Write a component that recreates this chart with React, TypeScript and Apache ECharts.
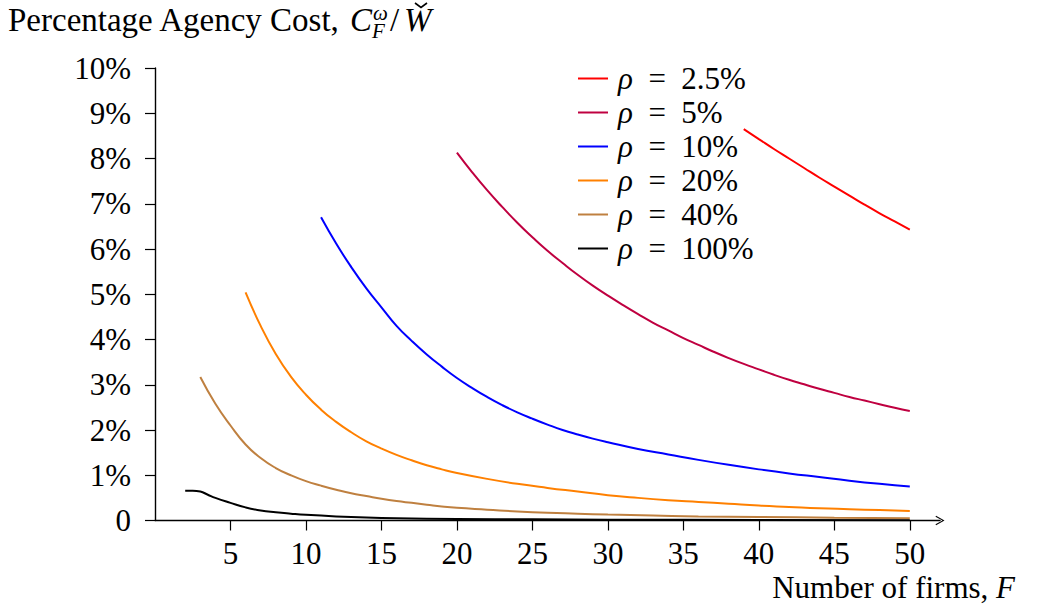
import React, { useEffect, useRef } from "react";
import * as echarts from "echarts";

const FONT = '"Liberation Serif", "Times New Roman", serif';

// x-axis tick values (number of firms) and y-axis ticks (percent)
const xTicks = [5, 10, 15, 20, 25, 30, 35, 40, 45, 50];
const yTicks = [0, 1, 2, 3, 4, 5, 6, 7, 8, 9, 10];

// [F, agency cost %]
const rho2_5: [number, number][] = [
  [39, 8.65], [40, 8.43], [41, 8.21], [42, 8.0], [43, 7.79], [44, 7.58],
  [45, 7.38], [46, 7.18], [47, 6.98], [48, 6.79], [49, 6.61], [50, 6.43],
];
const rho5: [number, number][] = [
  [20, 8.13], [21, 7.7], [22, 7.3], [23, 6.93], [24, 6.58], [25, 6.26],
  [26, 5.96], [27, 5.69], [28, 5.43], [29, 5.19], [30, 4.97], [31, 4.76],
  [32, 4.56], [33, 4.37], [34, 4.2], [35, 4.03], [36, 3.88], [37, 3.73],
  [38, 3.59], [39, 3.46], [40, 3.34], [41, 3.22], [42, 3.11], [43, 3.01],
  [44, 2.91], [45, 2.82], [46, 2.73], [47, 2.65], [48, 2.57], [49, 2.49],
  [50, 2.42],
];
const rho10: [number, number][] = [
  [11, 6.7], [12, 6.12], [13, 5.6], [14, 5.13], [15, 4.71], [16, 4.3],
  [17, 3.97], [18, 3.67], [19, 3.4], [20, 3.15], [21, 2.93], [22, 2.73],
  [23, 2.55], [24, 2.39], [25, 2.25], [26, 2.12], [27, 2.0], [28, 1.9],
  [29, 1.81], [30, 1.73], [32, 1.58], [34, 1.46], [36, 1.34], [38, 1.23],
  [40, 1.13], [42, 1.04], [44, 0.96], [46, 0.88], [48, 0.81], [50, 0.75],
];
const rho20: [number, number][] = [
  [6, 5.04], [7, 4.3], [8, 3.68], [9, 3.18], [10, 2.78], [11, 2.45],
  [12, 2.18], [13, 1.95], [14, 1.75], [15, 1.59], [16, 1.45], [17, 1.33],
  [18, 1.22], [19, 1.13], [20, 1.05], [22, 0.92], [24, 0.81], [26, 0.72],
  [28, 0.64], [30, 0.56], [32, 0.5], [34, 0.45], [36, 0.41], [38, 0.37],
  [40, 0.33], [42, 0.3], [44, 0.27], [46, 0.25], [48, 0.23], [50, 0.21],
];
const rho40: [number, number][] = [
  [3, 3.17], [4, 2.58], [5, 2.1], [6, 1.68], [7, 1.38], [8, 1.16],
  [9, 1.0], [10, 0.87], [11, 0.77], [12, 0.68], [13, 0.6], [14, 0.54],
  [15, 0.48], [16, 0.43], [17, 0.39], [18, 0.35], [19, 0.31], [20, 0.28],
  [22, 0.24], [24, 0.2], [26, 0.17], [28, 0.15], [30, 0.13], [33, 0.11],
  [36, 0.09], [40, 0.08], [45, 0.06], [50, 0.05],
];
const rho100: [number, number][] = [
  [2, 0.66], [2.5, 0.66], [3, 0.64], [3.5, 0.57], [4, 0.5], [5, 0.39],
  [6, 0.29], [7, 0.22], [8, 0.18], [9, 0.15], [10, 0.125], [12, 0.09],
  [14, 0.065], [16, 0.05], [20, 0.035], [25, 0.025], [30, 0.018],
  [40, 0.012], [50, 0.008],
];

const seriesNames = ["ρ = 2.5%", "ρ = 5%", "ρ = 10%", "ρ = 20%", "ρ = 40%", "ρ = 100%"];
const seriesData = [rho2_5, rho5, rho10, rho20, rho40, rho100];
const seriesColors = ["#ff0000", "#bf0040", "#0000ff", "#ff8000", "#bf8040", "#000000"];

export default function App() {
  const ref = useRef<HTMLDivElement>(null);
  useEffect(() => {
    document.body.style.margin = "0";
    if (!ref.current) return;
    const chart = echarts.init(ref.current, undefined, { renderer: "svg" });
    const option: any = {
      animation: false,
      backgroundColor: "#ffffff",
      grid: { left: 155, top: 68, width: 785, height: 452.5, containLabel: false },
      xAxis: {
        type: "value",
        min: 0,
        max: 52,
        interval: 5,
        axisLine: {
          show: true,
          onZero: false,
          lineStyle: { color: "#000", width: 1.4 },
          symbol: ["none", "path://M5,0 L10,9 L9,9.6 L5,2.2 L1,9.6 L0,9 Z"],
          symbolSize: [10, 9],
          symbolOffset: [0, 0],
        },
        axisTick: {
          show: true,
          length: 10,
          customValues: xTicks,
          lineStyle: { color: "#000", width: 1.2 },
        },
        axisLabel: {
          customValues: xTicks,
          margin: 17,
          color: "#000",
          fontFamily: FONT,
          fontSize: 31,
        },
        splitLine: { show: false },
      },
      yAxis: {
        type: "value",
        min: 0,
        max: 10,
        interval: 1,
        axisLine: { show: true, lineStyle: { color: "#000", width: 1.4 } },
        axisTick: {
          show: true,
          length: 10,
          customValues: yTicks,
          lineStyle: { color: "#000", width: 1.2 },
        },
        axisLabel: {
          customValues: yTicks,
          margin: 24,
          color: "#000",
          fontFamily: FONT,
          fontSize: 31,
          formatter: (v: number) => (v === 0 ? "0" : v + "%"),
        },
        splitLine: { show: false },
      },
      legend: {
        orient: "vertical",
        left: 578,
        top: 63,
        padding: 0,
        itemWidth: 30,
        itemHeight: 14,
        itemGap: 3,
        icon: "path://M0,6 L30,6 L30,8 L0,8 Z",
        data: seriesNames.map((n, i) => ({ name: n, itemStyle: { color: seriesColors[i] } })),
        formatter: (name: string) => `{i|ρ}{t|  =  ${name.replace("ρ = ", "")}}`,
        textStyle: {
          fontFamily: FONT,
          fontSize: 31,
          color: "#000",
          rich: {
            i: { fontFamily: FONT, fontSize: 31, fontStyle: "italic", color: "#000", padding: [0, 0, 0, 5] },
            t: { fontFamily: FONT, fontSize: 31, color: "#000" },
          },
        },
      },
      series: seriesData.map((d, i) => ({
        name: seriesNames[i],
        type: "line",
        data: d,
        smooth: true,
        showSymbol: false,
        symbol: "none",
        lineStyle: { color: seriesColors[i], width: 2 },
        itemStyle: { color: seriesColors[i] },
        z: 2,
      })),
      graphic: [
        {
          type: "text",
          left: 8,
          top: 3,
          style: {
            text: "Percentage Agency Cost,",
            fontFamily: FONT,
            fontSize: 33,
            fill: "#000",
          },
        },
        {
          type: "text",
          x: 350,
          y: 3,
          style: { text: "C", fontFamily: FONT, fontSize: 33, fontStyle: "italic", fill: "#000" },
        },
        {
          type: "text",
          x: 373,
          y: 2,
          style: { text: "ω", fontFamily: FONT, fontSize: 21, fontStyle: "italic", fill: "#000" },
        },
        {
          type: "text",
          x: 372,
          y: 20,
          style: { text: "F", fontFamily: FONT, fontSize: 21, fontStyle: "italic", fill: "#000" },
        },
        {
          type: "text",
          x: 390,
          y: 3,
          style: { text: "/", fontFamily: FONT, fontSize: 33, fill: "#000" },
        },
        {
          type: "text",
          x: 404,
          y: 3,
          style: { text: "W", fontFamily: FONT, fontSize: 33, fontStyle: "italic", fill: "#000" },
        },
        {
          type: "polyline",
          shape: { points: [[415, 3], [421, 7.5], [427, 3]] },
          style: { stroke: "#000", lineWidth: 1.6, fill: "none" },
        },
        {
          type: "text",
          right: 32,
          top: 572,
          style: {
            rich: {
              t: { fontFamily: FONT, fontSize: 31, fill: "#000" },
              i: { fontFamily: FONT, fontSize: 31, fontStyle: "italic", fill: "#000" },
            },
            text: "{t|Number of firms, }{i|F}",
          },
        },
      ],
    };
    chart.setOption(option);
    return () => chart.dispose();
  }, []);
  return <div ref={ref} style={{ width: 1047, height: 609 }} />;
}
